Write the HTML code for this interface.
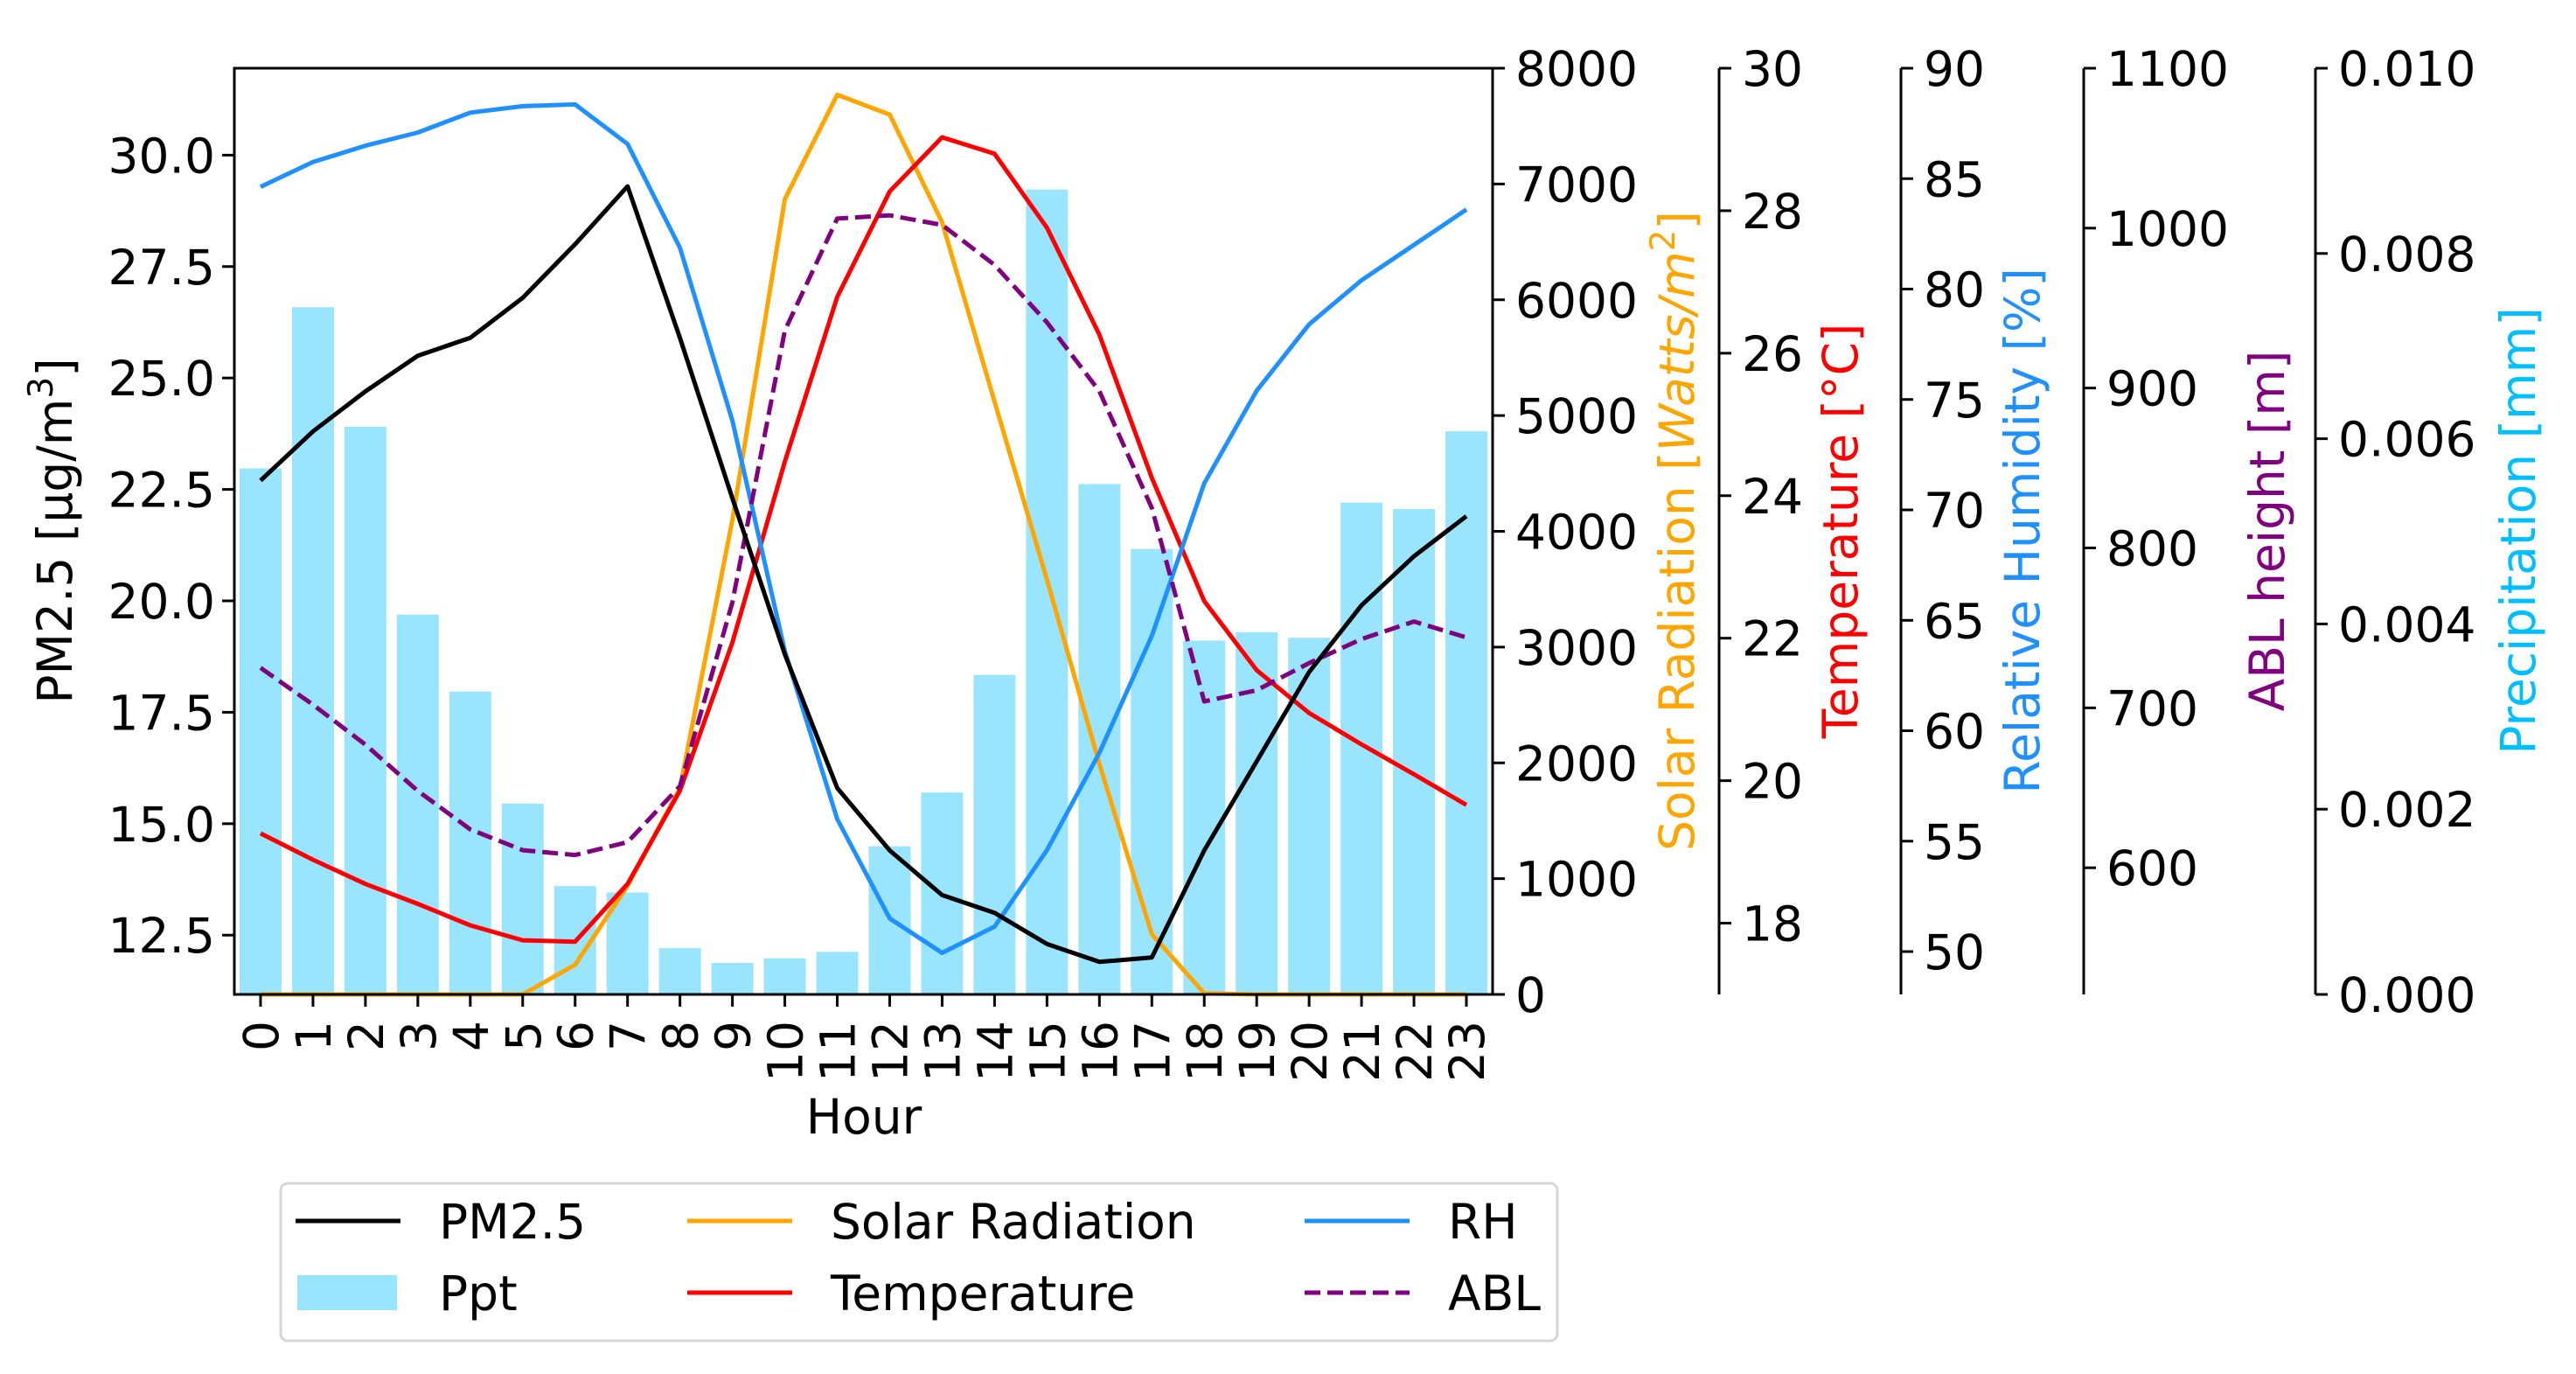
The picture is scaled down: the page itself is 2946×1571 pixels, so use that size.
<!DOCTYPE html>
<html><head><meta charset="utf-8">
<style>
html,body{margin:0;padding:0;background:#fff;}
svg{display:block;}
text{font-family:"DejaVu Sans","Liberation Sans",sans-serif;}
</style></head>
<body>
<svg id="chart" width="2946" height="1571" viewBox="0 0 2946 1571" xmlns="http://www.w3.org/2000/svg"></svg>
<script>
const hours = [0,1,2,3,4,5,6,7,8,9,10,11,12,13,14,15,16,17,18,19,20,21,22,23];
const pm25 = [22.7,23.8,24.7,25.5,25.9,26.8,28.0,29.3,25.9,22.3,18.8,15.8,14.4,13.4,13.0,12.3,11.9,12.0,14.4,16.4,18.4,19.9,21.0,21.9];
const solar = [0,0,0,0,0,0,256,938,1780,4100,6870,7770,7600,6670,5120,3580,1990,520,10,0,0,0,0,0];
const temperature = [19.26,18.89,18.55,18.27,17.97,17.76,17.74,18.55,19.86,21.94,24.48,26.79,28.27,29.03,28.8,27.76,26.26,24.25,22.52,21.55,20.95,20.51,20.09,19.66];
const rh = [84.63,85.75,86.49,87.09,87.99,88.28,88.36,86.57,81.87,74.04,63.6,56.0,51.5,49.94,51.13,54.6,59.0,64.3,71.2,75.4,78.4,80.4,82.0,83.6];
const abl = [725,702,677,648,624,611,608,616,651,766,936,1006,1008,1002,977,941,898,825,704,711,728,743,754,744];
const ppt = [0.00568,0.00742,0.00613,0.00410,0.00327,0.00206,0.00117,0.00110,0.00050,0.00034,0.00039,0.00046,0.00160,0.00218,0.00345,0.00869,0.00551,0.00481,0.00382,0.00391,0.00385,0.00531,0.00524,0.00608];
const pmTicks = ["12.5","15.0","17.5","20.0","22.5","25.0","27.5","30.0"];
const solarTicks = [0,1000,2000,3000,4000,5000,6000,7000,8000];
const tempTicks = [18,20,22,24,26,28,30];
const rhTicks = [50,55,60,65,70,75,80,85,90];
const ablTicks = [600,700,800,900,1000,1100];
const pptTicks = ["0.000","0.002","0.004","0.006","0.008","0.010"];

const NS="http://www.w3.org/2000/svg";
const svg=document.getElementById('chart');
const L=268,R=1707,T=78,B=1137;
function mk(tag,attrs,parent){const e=document.createElementNS(NS,tag);for(const k in attrs)e.setAttribute(k,attrs[k]);(parent||svg).appendChild(e);return e;}
function lin(d0,d1){return v=>B-(v-d0)/(d1-d0)*(B-T);}
const xS=h=>L+(h+0.5)/24*(R-L);
const yPM=lin(11.17,31.95), ySol=lin(0,8000), yT=lin(17.0,30), yRH=lin(48.06,90), yABL=lin(520.8,1100), yP=lin(0,0.010);
const FS=55;

const bw=(R-L)/24*0.8;
ppt.forEach((v,i)=>{const r=mk('rect',{x:xS(hours[i])-bw/2,y:yP(v),width:bw,height:B-yP(v),fill:'#99e5ff'});

});

function line(vals,ys,color,name,dash){
 const d=vals.map((v,i)=>(i?'L':'M')+xS(hours[i]).toFixed(1)+','+ys(v).toFixed(1)).join(' ');
 const p=mk('path',{d:d,fill:'none',stroke:color,'stroke-width':5,'stroke-linejoin':'round'});
 if(dash)p.setAttribute('stroke-dasharray','18,8');
 
 
}
line(solar,ySol,'#ffa500','solar-radiation-line');
line(temperature,yT,'#ff0000','temperature-line');
line(rh,yRH,'#1e90ff','rh-line');
line(abl,yABL,'#800080','abl-line',true);
line(pm25,yPM,'#000000','pm25-line');

const fr=mk('rect',{x:L,y:T,width:R-L,height:B-T,fill:'none',stroke:'#000','stroke-width':3});



pmTicks.forEach(t=>{const y=yPM(parseFloat(t));mk('line',{x1:L-14,x2:L,y1:y,y2:y,stroke:'#000','stroke-width':3});
 const tx=mk('text',{x:L-22,y:y+20,'font-size':FS,'text-anchor':'end'});tx.textContent=t;
 
 });
hours.forEach(h=>{const x=xS(h);mk('line',{x1:x,x2:x,y1:B,y2:B+14,stroke:'#000','stroke-width':3});
 const tx=mk('text',{x:0,y:0,'font-size':FS,'text-anchor':'end',transform:`translate(${x+20},${B+30}) rotate(-90)`});tx.textContent=h;
 
 });
const xl=mk('text',{x:988,y:1296,'font-size':FS,'text-anchor':'middle'});xl.textContent='Hour';


const yl=mk('text',{x:0,y:0,'font-size':FS,'text-anchor':'middle',transform:'translate(82,607) rotate(-90)'});
yl.innerHTML='PM2.5 [μg/m<tspan dy="-22" font-size="39">3</tspan><tspan dy="22">]</tspan>';



function raxis(sx,ticks,ys,name,title,color,tx){
 if(sx!==R){const s=mk('line',{x1:sx,x2:sx,y1:T,y2:B,stroke:'#000','stroke-width':3});
  
  }
 ticks.forEach(t=>{const y=ys(parseFloat(t));mk('line',{x1:sx,x2:sx+14,y1:y,y2:y,stroke:'#000','stroke-width':3});
  const e=mk('text',{x:sx+26,y:y+20,'font-size':FS});e.textContent=t;
  
  });
 const e=mk('text',{x:0,y:0,'font-size':FS,'text-anchor':'middle',fill:color,transform:`translate(${tx},607) rotate(-90)`});
 e.innerHTML=title;
 
 
}
raxis(R,solarTicks,ySol,'solar','Solar Radiation  [<tspan font-style="italic">Watts/m</tspan><tspan dy="-22" font-size="39">2</tspan><tspan dy="22">]</tspan>','#ffa500',1937);
raxis(1966,tempTicks,yT,'temperature','Temperature [°C]','#ff0000',2124);
raxis(2174,rhTicks,yRH,'rh','Relative Humidity [%]','#1e90ff',2332);
raxis(2383,ablTicks,yABL,'abl','ABL height [m]','#800080',2612);
raxis(2648,pptTicks,yP,'precipitation','Precipitation [mm]','#00bfff',2899);

const lg=mk('g',{});


mk('rect',{x:321,y:1353,width:1460,height:180,rx:8,fill:'#fff',stroke:'#d6d6d6','stroke-width':3},lg);
const items=[
 {n:'PM2.5',c:'#000',x:338,y:1396,t:'line'},
 {n:'Ppt',c:'#99e5ff',x:338,y:1478,t:'bar'},
 {n:'Solar Radiation',c:'#ffa500',x:786,y:1396,t:'line'},
 {n:'Temperature',c:'#ff0000',x:786,y:1478,t:'line'},
 {n:'RH',c:'#1e90ff',x:1492,y:1396,t:'line'},
 {n:'ABL',c:'#800080',x:1492,y:1478,t:'dash'}];
items.forEach(it=>{
 const g=mk('g',{},lg);
 
 
 if(it.t==='bar')mk('rect',{x:it.x+2,y:it.y-20,width:114,height:40,fill:it.c},g);
 else{const l=mk('line',{x1:it.x,x2:it.x+120,y1:it.y,y2:it.y,stroke:it.c,'stroke-width':5},g);
  if(it.t==='dash')l.setAttribute('stroke-dasharray','18,8');}
 const tx=mk('text',{x:it.x+164,y:it.y+20,'font-size':FS},g);tx.textContent=it.n;
});
</script>
</body></html>
